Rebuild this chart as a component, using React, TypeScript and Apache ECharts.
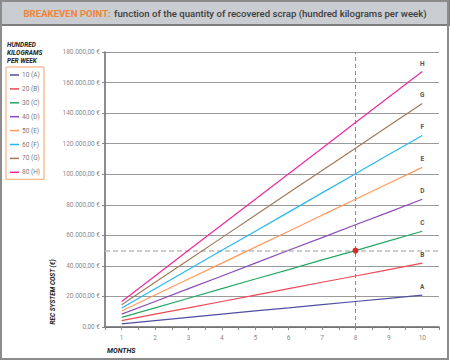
import React, { useEffect, useRef } from "react";
import * as echarts from "echarts";

const months = [1, 2, 3, 4, 5, 6, 7, 8, 9, 10];
const seriesNames = ["10 (A)", "20 (B)", "30 (C)", "40 (D)", "50 (E)", "60 (F)", "70 (G)", "80 (H)"];
const endLetters = ["A", "B", "C", "D", "E", "F", "G", "H"];
const colors = ["#4f4fa3", "#f04856", "#26a865", "#8a4db8", "#ff9a5a", "#27b8f2", "#a27a5a", "#ec2b9f"];

const valuesA = [2100, 4200, 6300, 8400, 10500, 12500, 14600, 16700, 18800, 20900];
const valuesB = [4200, 8400, 12500, 16700, 20900, 25100, 29300, 33400, 37600, 41800];
const valuesC = [6300, 12500, 18800, 25100, 31400, 37600, 43900, 50000, 56400, 62700];
const valuesD = [8400, 16700, 25100, 33400, 41800, 50200, 58500, 66900, 75200, 83600];
const valuesE = [10500, 20900, 31400, 41800, 52300, 62700, 73200, 83600, 94100, 104500];
const valuesF = [12500, 25100, 37600, 50200, 62700, 75200, 87800, 100300, 112900, 125400];
const valuesG = [14600, 29300, 43900, 58500, 73200, 87800, 102400, 117000, 131700, 146300];
const valuesH = [16700, 33400, 50200, 66900, 83600, 100300, 117000, 133800, 150500, 167200];
const allValues = [valuesA, valuesB, valuesC, valuesD, valuesE, valuesF, valuesG, valuesH];

const breakevenMonth = 8;
const breakevenCost = 50000;
const yMax = 180000;
const yStep = 20000;

const titleBold = "BREAKEVEN POINT:";
const titleRest = "function of the quantity of recovered scrap (hundred kilograms per week)";
const legendTitle = "HUNDRED\nKILOGRAMS\nPER WEEK";
const yName = "REC SYSTEM COST (€)";
const xName = "MONTHS";

function euro(v: number): string {
  const s = Math.round(v).toString().replace(/\B(?=(\d{3})+(?!\d))/g, ".");
  return s + ",00 €";
}

const FONT = "Roboto";

export default function App() {
  const ref = useRef<HTMLDivElement>(null);
  useEffect(() => {
    document.body.style.margin = "0";
    const chart = echarts.init(ref.current!, undefined, { renderer: "svg" });
    const series: any[] = allValues.map((vals, i) => {
      const data = vals.map((v, j) => [months[j], v]);
      const last = vals.length - 1;
      const mpData: any[] = [
        {
          coord: [months[last], vals[last]],
          symbol: "circle",
          symbolSize: 1,
          itemStyle: { color: "rgba(0,0,0,0)" },
          label: {
            show: true,
            position: "top",
            distance: 4,
            formatter: endLetters[i],
            fontSize: 6.5,
            fontWeight: "bold",
            color: "#555",
            fontFamily: FONT,
          },
        },
      ];
      if (i === 2) {
        mpData.push({
          coord: [breakevenMonth, breakevenCost],
          symbol: "circle",
          symbolSize: 6,
          itemStyle: { color: "#d62b2b" },
          label: { show: false },
        });
      }
      const s: any = {
        name: seriesNames[i],
        type: "line",
        data,
        showSymbol: false,
        symbol: "none",
        lineStyle: { color: colors[i], width: 1.2 },
        itemStyle: { color: colors[i] },
        z: 3,
        markPoint: { silent: true, data: mpData, z: 5 },
      };
      if (i === 2) {
        s.markLine = {
          silent: true,
          symbol: "none",
          label: { show: false },
          data: [
            { xAxis: breakevenMonth, lineStyle: { color: "#8a8a8a", width: 1, type: [4, 3] } },
            { yAxis: breakevenCost, lineStyle: { color: "#bdbdbd", width: 1.5, type: [5, 3] } },
          ],
          z: 2,
        };
      }
      return s;
    });

    chart.setOption({
      animation: false,
      backgroundColor: "#ffffff",
      textStyle: { fontFamily: FONT },
      grid: { left: 105, right: 11, top: 52, bottom: 34 },
      legend: {
        orient: "vertical",
        left: 6,
        top: 67,
        data: seriesNames,
        icon: "rect",
        itemWidth: 9,
        itemHeight: 1.5,
        itemGap: 5.9,
        padding: [4, 4, 3, 4],
        borderColor: "#f4a26c",
        borderWidth: 1,
        textStyle: { fontSize: 6.5, color: "#7a7a7a", fontFamily: FONT, lineHeight: 8, padding: [0, 0, 0, -2] },
        selectedMode: false,
      },
      xAxis: {
        type: "value",
        min: 0.5,
        max: 10.5,
        interval: 0.5,
        axisLine: { show: true, lineStyle: { color: "#666", width: 1.5 } },
        axisTick: { show: true, length: 3, lineStyle: { color: "#888" } },
        axisLabel: {
          fontSize: 6.5,
          color: "#8a8a8a",
          margin: 7,
          fontFamily: FONT,
          formatter: (v: number) => (Number.isInteger(v) && v >= 1 && v <= 10 ? String(v) : ""),
        },
        splitLine: { show: false },
      },
      yAxis: {
        type: "value",
        min: 0,
        max: yMax,
        interval: yStep,
        axisLine: { show: true, lineStyle: { color: "#666", width: 1.5 } },
        axisTick: { show: true, length: 3, lineStyle: { color: "#888" } },
        axisLabel: { fontSize: 6.5, color: "#8a8a8a", margin: 5, fontFamily: FONT, formatter: (v: number) => euro(v) },
        splitLine: { show: true, lineStyle: { color: "#9a9a9a", width: 1 } },
      },
      graphic: [
        {
          type: "rect",
          shape: { x: 1, y: 1, width: 448, height: 24 },
          style: { fill: "#c9ccd1", stroke: "#7d7d7d", lineWidth: 2 },
          z: 10,
        },
        {
          type: "rect",
          shape: { x: 1, y: 1, width: 447, height: 358 },
          style: { fill: "none", stroke: "#8c8c8c", lineWidth: 2 },
          z: 11,
        },
        {
          type: "text",
          x: 225,
          y: 13.5,
          z: 12,
          style: {
            text: "{a|" + titleBold + "} {b|" + titleRest + "}",
            align: "center",
            verticalAlign: "middle",
            rich: {
              a: { fontSize: 9.6, fontWeight: "bold", fill: "#f0843a", fontFamily: FONT },
              b: { fontSize: 9.6, fontWeight: 500, fill: "#3c3c3c", fontFamily: FONT },
            },
          },
        },
        {
          type: "text",
          x: 7,
          y: 41,
          z: 12,
          style: {
            text: legendTitle,
            fontSize: 6.5,
            lineHeight: 7.8,
            fontWeight: "bold",
            fontStyle: "italic",
            fill: "#222",
            fontFamily: FONT,
            align: "left",
            verticalAlign: "top",
          },
        },
        {
          type: "text",
          x: 53,
          y: 292,
          rotation: Math.PI / 2,
          z: 12,
          style: {
            text: yName,
            fontSize: 6.5,
            fontWeight: "bold",
            fontStyle: "italic",
            fill: "#222",
            fontFamily: FONT,
            align: "center",
            verticalAlign: "middle",
          },
        },
        {
          type: "text",
          x: 107,
          y: 351,
          z: 12,
          style: {
            text: xName,
            fontSize: 7,
            fontWeight: "bold",
            fontStyle: "italic",
            fill: "#222",
            fontFamily: FONT,
            align: "left",
            verticalAlign: "middle",
          },
        },
      ],
      series,
    });
    return () => chart.dispose();
  }, []);
  return <div ref={ref} style={{ width: 450, height: 361 }} />;
}
